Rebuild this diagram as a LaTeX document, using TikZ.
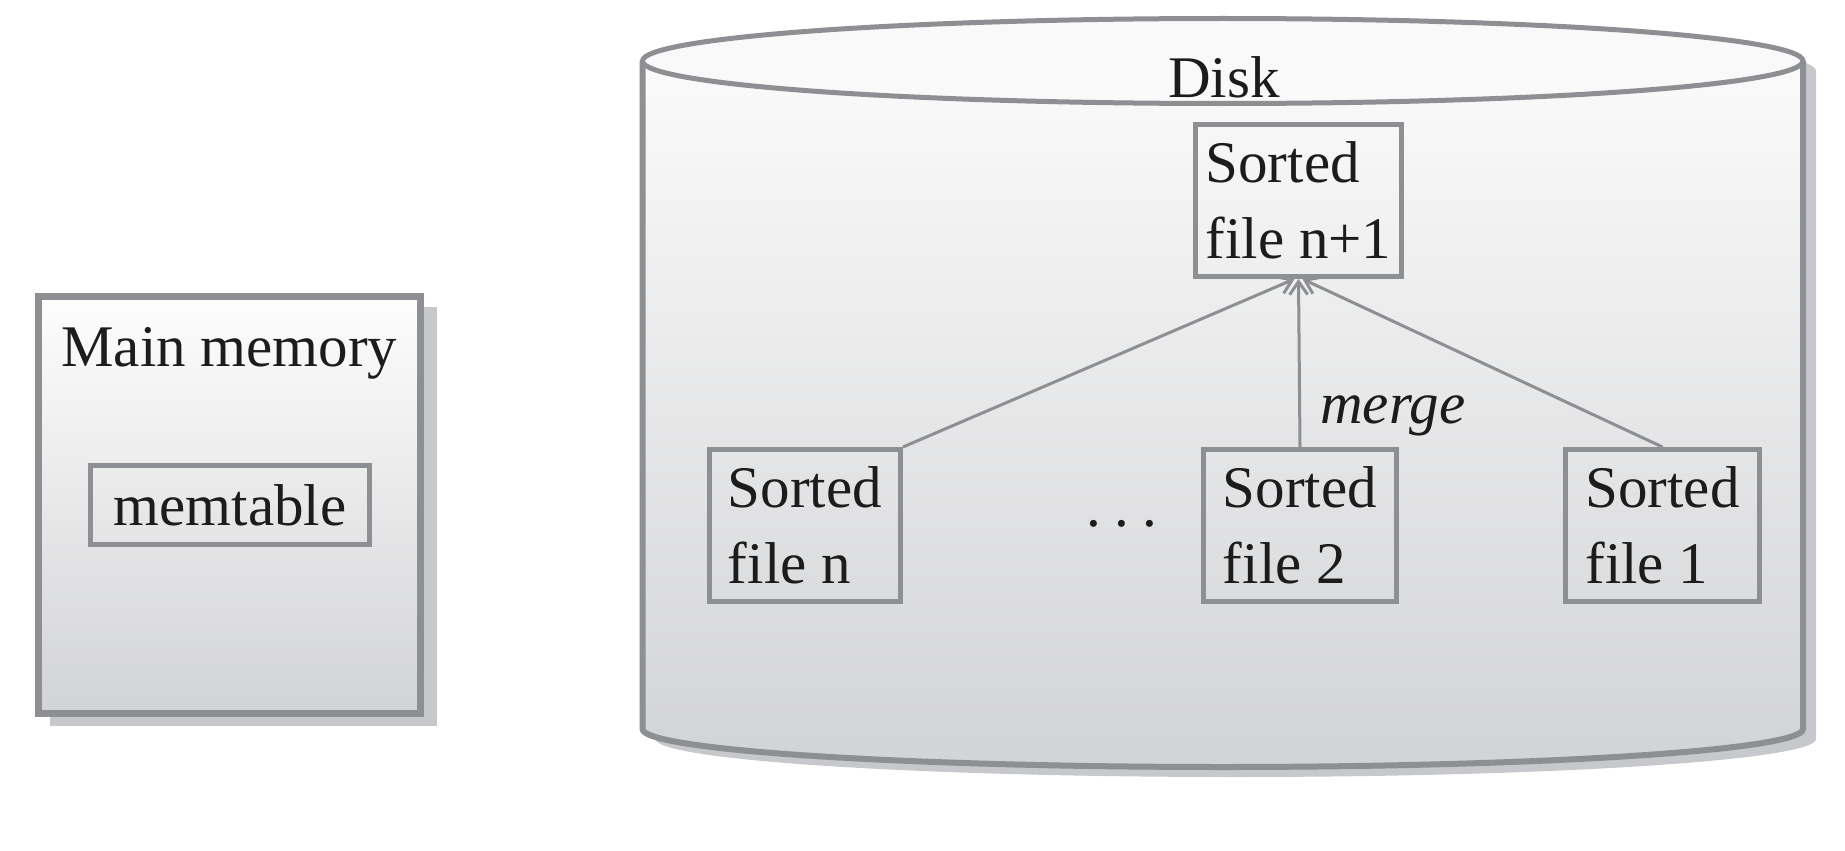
\documentclass[tikz,border=0pt]{standalone}
\usepackage{fontspec}
\setmainfont{Liberation Serif}
\usetikzlibrary{arrows.meta,calc}
\definecolor{edgegray}{HTML}{8E8F93}
\definecolor{shadowgray}{HTML}{C7C8CB}
\definecolor{topc}{HTML}{FDFDFD}
\definecolor{botc}{HTML}{D2D3D5}
\definecolor{lidc}{HTML}{F9F9F9}
\definecolor{ink}{HTML}{1C1C1C}
\newcommand\diafont{\fontsize{59pt}{76pt}\selectfont}
\begin{document}
\begin{tikzpicture}[x=1pt,y=-1pt,
  every node/.style={font=\diafont, text=ink},
  filebox/.style={draw=edgegray, line width=5pt, inner sep=0pt, align=left},
  mergearrow/.style={draw=edgegray, line width=3pt, -{Straight Barb[length=13pt,width=18pt]}}]
\fill[white] (0,0) rectangle (1845,851);
\useasboundingbox (0,0) rectangle (1845,851);

% ---- Main memory box ----
\fill[shadowgray] (50,307) rectangle (437,726);
\node[draw=edgegray, line width=7pt, shading=axis, top color=topc, bottom color=botc,
      minimum width=382pt, minimum height=417pt, inner sep=0pt] (mm) at (229.5,505) {};
\node[anchor=base] (mmlabel) at (229.5,366) {Main memory};
\node[draw=edgegray, line width=5pt, minimum width=279pt, minimum height=79pt, inner sep=0pt] (mt) at (230,505) {memtable};

% ---- Disk cylinder ----
\begin{scope}[shift={(13,10)}]
\fill[shadowgray] (642.5,61) -- (642.5,729) arc[start angle=180,end angle=360,x radius=580.25pt,y radius=38pt]
  -- (1803,61) arc[start angle=0,end angle=180,x radius=580.25pt,y radius=42.5pt] -- cycle;
\end{scope}
\path[shading=axis, top color=topc, bottom color=botc]
  (642.5,61) -- (642.5,729) arc[start angle=180,end angle=360,x radius=580.25pt,y radius=38pt]
  -- (1803,61) arc[start angle=0,end angle=180,x radius=580.25pt,y radius=42.5pt] -- cycle;
\draw[edgegray, line width=6pt] (642.5,61) -- (642.5,729)
  arc[start angle=180,end angle=360,x radius=580.25pt,y radius=38pt] -- (1803,61);
\draw[edgegray, line width=5pt, fill=lidc] (1222.75,61) ellipse[x radius=580.25pt, y radius=42.5pt];
\node[anchor=base] (disk) at (1224,97) {Disk};

% ---- Sorted files ----
\node[filebox, minimum width=206pt, minimum height=152pt] (n1) at (1298.5,200.5) {Sorted\\file n+1};
\node[filebox, minimum width=191pt, minimum height=152pt] (fn) at (805,525.5) {Sorted\\file n};
\node[filebox, minimum width=193pt, minimum height=152pt] (f2) at (1300,525.5) {Sorted\\file 2};
\node[filebox, minimum width=194pt, minimum height=152pt] (f1) at (1662.5,525.5) {Sorted\\file 1};
\node[anchor=base] (dots) at (1122,526) {.\kern13pt.\kern13pt.};

% ---- merge arrows ----
\draw[mergearrow] (fn.north east) -- ([xshift=-4pt]n1.south);
\draw[mergearrow] (f2.north) -- (n1.south);
\draw[mergearrow] (f1.north) -- ([xshift=4pt]n1.south);
\node[anchor=base, font=\diafont\itshape] (mergelbl) at (1393,423) {merge};
\end{tikzpicture}
\end{document}
